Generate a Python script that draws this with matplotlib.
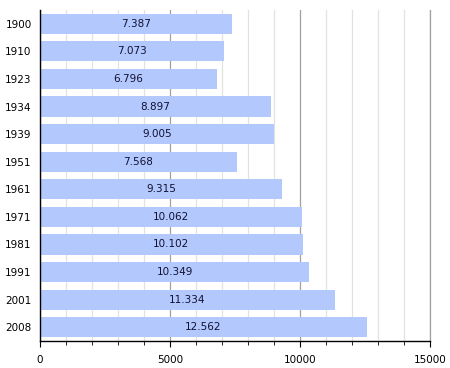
import matplotlib.pyplot as plt
from matplotlib.ticker import MultipleLocator

years = ['1900', '1910', '1923', '1934', '1939', '1951', '1961', '1971', '1981', '1991', '2001', '2008']
population = [7387, 7073, 6796, 8897, 9005, 7568, 9315, 10062, 10102, 10349, 11334, 12562]

fig = plt.figure(figsize=(4.5, 3.68), dpi=100)
ax = fig.add_axes([40 / 450, 1 - 341 / 368, 390 / 450, 331 / 368])

pos = list(range(len(years)))
bars = ax.barh(pos, population, height=0.73, color='#b3c8fd', zorder=2)

for p, v in zip(pos, population):
    label = f'{v:,}'.replace(',', '.')
    ax.text(v / 2, p, label, ha='center', va='center', fontsize=7.5, color='#111133', zorder=3)

ax.set_xlim(0, 15000)
ax.set_ylim(len(years) - 0.5, -0.5)
ax.set_yticks(pos)
ax.set_yticklabels(years)
ax.xaxis.set_major_locator(MultipleLocator(5000))
ax.xaxis.set_minor_locator(MultipleLocator(1000))
ax.grid(axis='x', which='major', color='#a0a0a0', linewidth=0.9, zorder=0)
ax.grid(axis='x', which='minor', color='#e2e2e2', linewidth=0.9, zorder=0)
ax.axvline(15000, color='#a0a0a0', linewidth=0.9, zorder=0, clip_on=False)
ax.tick_params(axis='y', length=0, labelsize=7.5, pad=6)
ax.tick_params(axis='x', which='major', length=4, labelsize=7.5, pad=6)
ax.tick_params(axis='x', which='minor', length=3)
for s in ['top', 'right']:
    ax.spines[s].set_visible(False)
ax.spines['left'].set_linewidth(1)
ax.spines['bottom'].set_linewidth(1)

plt.savefig('out.png', dpi=100)
